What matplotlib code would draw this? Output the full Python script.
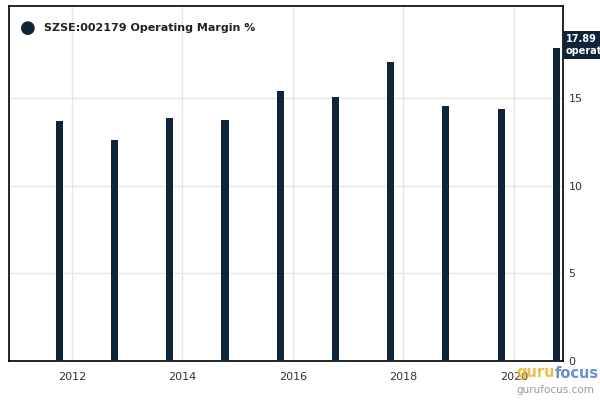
import numpy as np
import matplotlib.pyplot as plt

# Данные: операционная маржа по годам (отчёты на конец сентября)
years = [2011, 2012, 2013, 2014, 2015, 2016, 2017, 2018, 2019, 2020]
margin = [13.69, 12.60, 13.86, 13.74, 15.40, 15.08, 17.06, 14.54, 14.37, 17.89]
year_ticks = [2012, 2014, 2016, 2018, 2020]
y_ticks = [0, 5, 10, 15]

bar_color = '#0f2339'
x = np.array(years) + 0.77

fig = plt.figure(figsize=(6, 4), dpi=100)
ax = fig.add_axes([9 / 600, 39 / 400, 554 / 600, 355 / 400])

ax.bar(x, margin, width=0.13, color=bar_color, zorder=3)

ax.set_xlim(2010.86, 2020.89)
ax.set_ylim(0, 20.27)
ax.set_xticks(year_ticks)
ax.set_xticklabels([str(y) for y in year_ticks])
ax.yaxis.tick_right()
ax.set_yticks(y_ticks)
ax.grid(True, color='#e6e6e6', linewidth=1, zorder=0)
ax.tick_params(axis='both', length=0, labelsize=8, colors='#333333', pad=4)
ax.tick_params(axis='x', pad=8)
for s in ax.spines.values():
    s.set_color('black')
    s.set_linewidth(1.2)

# Легенда
fig.text(28 / 600, 1 - 28 / 400, '\u25CF', color=bar_color, fontsize=13,
         ha='center', va='center')
fig.text(44 / 600, 1 - 28 / 400, 'SZSE:002179 Operating Margin %', color='#222222',
         fontsize=8, fontweight='bold', ha='left', va='center')

# Подпись последнего значения
fig.text(566 / 600, 1 - 45 / 400, '17.89\noperat', color='white', fontsize=7,
         fontweight='bold', ha='left', va='center', linespacing=1.3,
         bbox=dict(boxstyle='square,pad=0.3', fc=bar_color, ec='none'))

# Водяной знак
fig.text(555 / 600, 1 - 373 / 400, 'guru', color='#f0b020', fontsize=10.5,
         fontweight='bold', ha='right', va='center', alpha=0.85)
fig.text(555 / 600, 1 - 373 / 400, 'focus', color='#4a7fc1', fontsize=10.5,
         fontweight='bold', ha='left', va='center', alpha=0.85)
fig.text(594 / 600, 1 - 390 / 400, 'gurufocus.com', color='#999999', fontsize=7.5,
         ha='right', va='center')

fig.savefig('out.png', dpi=100)
